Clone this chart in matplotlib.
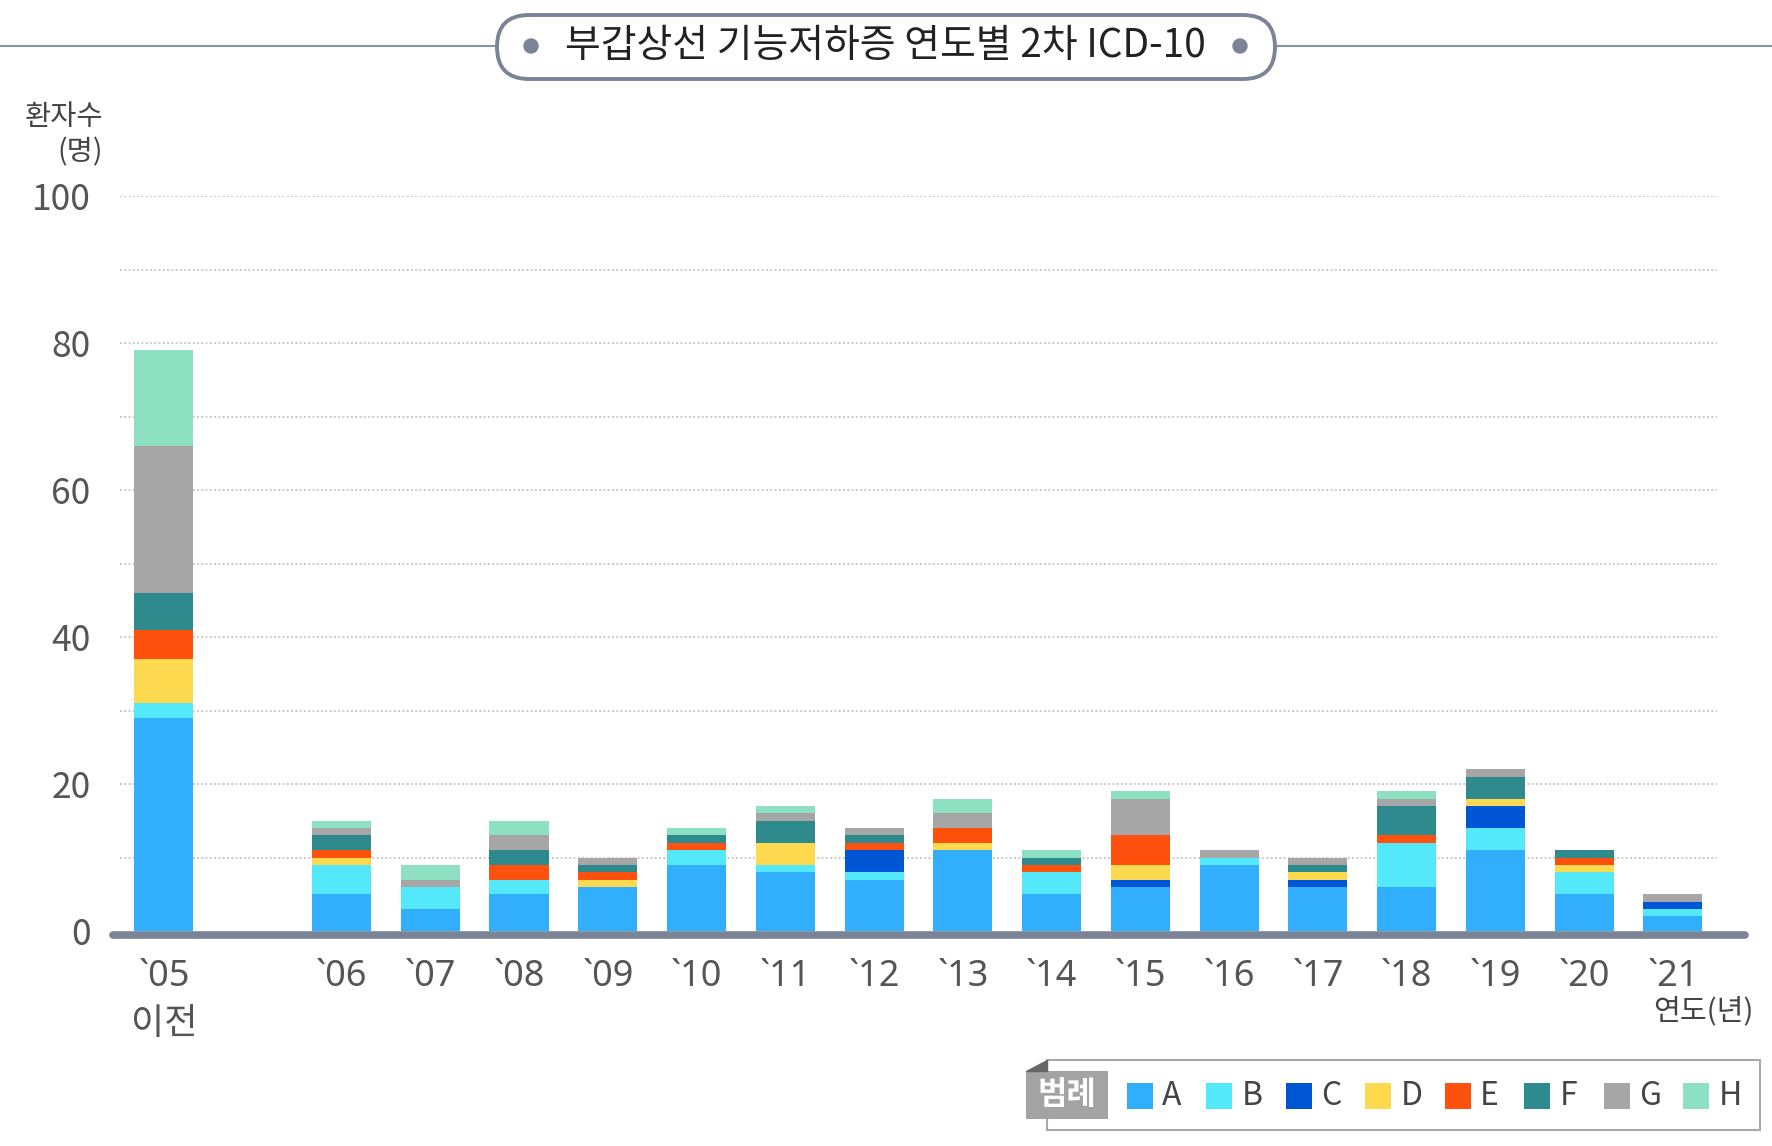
import matplotlib.pyplot as plt
from matplotlib.patches import FancyBboxPatch, Rectangle, Polygon, Circle
import numpy as np

plt.rcParams['font.family'] = ['Noto Sans CJK KR', 'DejaVu Sans']

W, H = 1772, 1146

years = ["`05\n이전", "`06", "`07", "`08", "`09", "`10", "`11", "`12", "`13",
         "`14", "`15", "`16", "`17", "`18", "`19", "`20", "`21"]

A = [29, 5, 3, 5, 6, 9, 8, 7, 11, 5, 6, 9, 6, 6, 11, 5, 2]
B = [2, 4, 3, 2, 0, 2, 1, 1, 0, 3, 0, 1, 0, 6, 3, 3, 1]
C = [0, 0, 0, 0, 0, 0, 0, 3, 0, 0, 1, 0, 1, 0, 3, 0, 1]
D = [6, 1, 0, 0, 1, 0, 3, 0, 1, 0, 2, 0, 1, 0, 1, 1, 0]
E = [4, 1, 0, 2, 1, 1, 0, 1, 2, 1, 4, 0, 0, 1, 0, 1, 0]
F = [5, 2, 0, 2, 1, 1, 3, 1, 0, 1, 0, 0, 1, 4, 3, 1, 0]
G = [20, 1, 1, 2, 1, 0, 1, 1, 2, 0, 5, 1, 1, 1, 1, 0, 1]
Hs = [13, 1, 2, 2, 0, 1, 1, 0, 2, 1, 1, 0, 0, 1, 0, 0, 0]

names = ["A", "B", "C", "D", "E", "F", "G", "H"]
series = [A, B, C, D, E, F, G, Hs]
colors = ["#31aefc", "#53e9fb", "#0055d4", "#fdd94f",
          "#fd510d", "#2f8a8e", "#a6a6a6", "#8de0c2"]

# first category sits apart from the rest
xpos = np.arange(len(years)) + 1
xpos[0] = 0

fig = plt.figure(figsize=(W / 100, H / 100), dpi=100)
ax = fig.add_axes([110 / W, 1 - 931 / H, (1748 - 110) / W, (931 - 196) / H])
ax.set_xlim(-0.608, 17.846)
ax.set_ylim(0, 100)

for yv in range(10, 101, 10):
    ax.hlines(yv, -0.5, 17.5, colors="#c9c9c9", lw=1.4,
              linestyles=(0, (1, 1.2)), zorder=0)

bottom = np.zeros(len(years))
for name, vals, c in zip(names, series, colors):
    ax.bar(xpos, vals, width=0.665, bottom=bottom, color=c, label=name, zorder=2)
    bottom += np.array(vals)

ax.plot([-0.57, 17.81], [-0.5, -0.5], lw=5.5, color="#7b8496",
        solid_capstyle="round", clip_on=False, zorder=3)

for s in ax.spines.values():
    s.set_visible(False)
ax.set_yticks(range(0, 101, 20))
ax.set_yticklabels([str(v) for v in range(0, 101, 20)])
ax.set_xticks(xpos)
ax.set_xticklabels(years)
ax.tick_params(axis="y", length=0, pad=14, labelsize=25.5, labelcolor="#555555")
ax.tick_params(axis="x", length=0, pad=20, labelsize=26, labelcolor="#555555")
for lab in ax.get_yticklabels():
    lab.set_fontweight("light")
for lab in ax.get_xticklabels():
    lab.set_family(["Noto Sans", "Noto Sans CJK KR"])
    lab.set_fontweight("light")
    lab.set_linespacing(1.45)

# overlay in pixel coordinates for title and legend
ov = fig.add_axes([0, 0, 1, 1], facecolor="none")
ov.set_xlim(0, W)
ov.set_ylim(H, 0)
ov.axis("off")

ov.plot([0, W], [46, 46], color="#8a93a3", lw=1.5, zorder=1)
ov.add_patch(FancyBboxPatch((497, 15), 778, 64, boxstyle="round,pad=0,rounding_size=32",
                            fc="white", ec="#7b8496", lw=2.8, zorder=2))
ov.add_patch(Circle((531, 46), 7, color="#7b8496", zorder=3))
ov.add_patch(Circle((1240, 46), 7, color="#7b8496", zorder=3))
ov.text(885, 46, "부갑상선 기능저하증 연도별 2차 ICD-10", ha="center", va="center",
        fontsize=28, fontweight="medium", color="#222222", zorder=4)

ov.text(103, 117, "환자수", ha="right", va="center", fontsize=20.5, color="#444444")
ov.text(103, 152, "(명)", ha="right", va="center", fontsize=20.5, color="#444444")
ov.text(1703, 1011, "연도(년)", ha="center", va="center", fontsize=21, color="#444444")

# legend
ov.add_patch(Rectangle((1047, 1060), 713, 70, fc="white", ec="#a8a8a8", lw=1.5))
ov.add_patch(Rectangle((1026, 1071), 82, 48, fc="#a3a3a3", ec="none"))
ov.add_patch(Polygon([(1047, 1060), (1047, 1071), (1026, 1071)], color="#666666"))
ov.text(1067, 1095, "범례", ha="center", va="center", fontsize=23,
        fontweight="bold", color="white")
for i, (name, c) in enumerate(zip(names, colors)):
    x0 = 1127 + i * 79.5
    ov.add_patch(Rectangle((x0, 1083), 26, 26, fc=c, ec="none"))
    ov.text(x0 + 35, 1096, name, ha="left", va="center", fontsize=23,
            fontweight="light", color="#444444")

fig.savefig("out.png", dpi=100)
